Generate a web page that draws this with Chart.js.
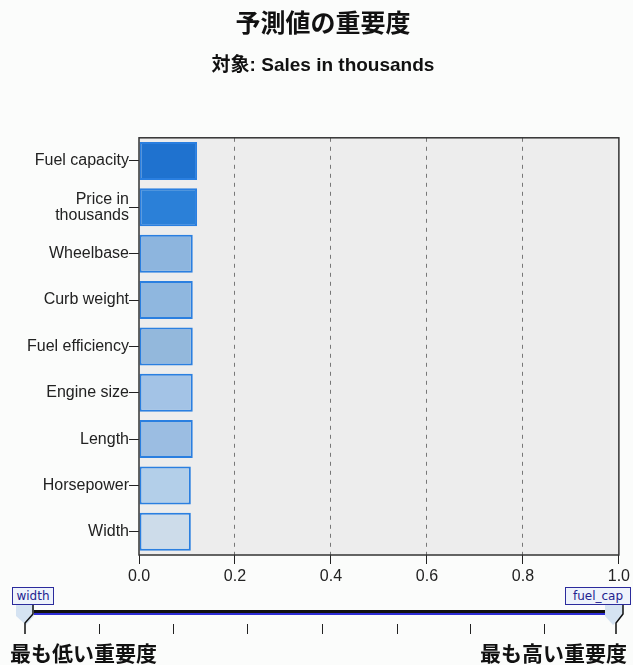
<!DOCTYPE html>
<html>
<head>
<meta charset="utf-8">
<script src="https://cdn.jsdelivr.net/npm/chart.js@4.4.1/dist/chart.umd.min.js"></script>
<style>
  body { margin: 0; background: #fbfcfb; }
  #wrap { position: relative; width: 633px; height: 665px; overflow: hidden; }
  #importance { position: absolute; left: 0; top: 0; }
  .tag { position: absolute; top: 587px; height: 16px; border: 1px solid #2b2b9c; background: #eef3fb;
         color: #23238f; font: 12px "DejaVu Sans", sans-serif; line-height: 16px; text-align: center; }
  .rail { position: absolute; left: 33px; width: 576px; }
  .tick { position: absolute; top: 624px; width: 1px; height: 10px; background: #222; }
  .end { position: absolute; top: 640px; font: bold 21px "Noto Sans CJK JP", sans-serif; color: #111; line-height: 24px; }
</style>
</head>
<body>
<div id="wrap">
  <canvas id="importance" width="633" height="665"></canvas>
  <div id="slider"></div>
</div>
<script>
const predictors = ['Fuel capacity', ['Price in', 'thousands'], 'Wheelbase', 'Curb weight',
  'Fuel efficiency', 'Engine size', 'Length', 'Horsepower', 'Width'];
const importance = [0.121, 0.121, 0.112, 0.112, 0.112, 0.112, 0.112, 0.108, 0.108];
const barColors = ['#1f72cf', '#2b80d8', '#8db5de', '#8fb7df', '#93b8dc', '#a3c3e6', '#9bbde2', '#b3cfe9', '#cddcea'];
const xTicks = [0, 0.2, 0.4, 0.6, 0.8, 1.0];
const sliderLow = 'width';
const sliderHigh = 'fuel_cap';
const sliderTicks = [99, 173, 247, 322, 397, 470, 544];

// plot background + frame
const plotFrame = {
  id: 'plotFrame',
  beforeDraw(chart) {
    const { ctx, chartArea: a } = chart;
    ctx.save();
    ctx.fillStyle = '#ededed';
    ctx.fillRect(a.left, a.top, a.right - a.left, a.bottom - a.top);
    ctx.restore();
  },
  afterDraw(chart) {
    const { ctx, chartArea: a } = chart;
    ctx.save();
    ctx.strokeStyle = '#333';
    ctx.lineWidth = 1.5;
    ctx.strokeRect(a.left, a.top, a.right - a.left, a.bottom - a.top);
    ctx.restore();
  }
};

new Chart(document.getElementById('importance'), {
  type: 'bar',
  data: {
    labels: predictors,
    datasets: [{
      data: importance,
      backgroundColor: barColors,
      borderColor: '#2a7fe0',
      borderWidth: 2,
      borderSkipped: false,
      categoryPercentage: 1,
      barPercentage: 0.82
    }]
  },
  plugins: [plotFrame],
  options: {
    indexAxis: 'y',
    responsive: false,
    animation: false,
    // left/right padding offset so the titles sit a bit right of the page centre
    layout: { padding: { left: 25, right: 12, top: 0, bottom: 0 } },
    plugins: {
      legend: { display: false },
      tooltip: { enabled: false },
      title: {
        display: true,
        text: '予測値の重要度',
        color: '#111',
        font: { family: '"Noto Sans CJK JP", sans-serif', size: 25, weight: 'bold' },
        padding: { top: 7, bottom: 17 }
      },
      subtitle: {
        display: true,
        text: '対象: Sales in thousands',
        color: '#111',
        font: { family: '"Liberation Sans", "Noto Sans CJK JP", sans-serif', size: 19, weight: 'bold' },
        padding: { top: 0, bottom: 61 }
      }
    },
    scales: {
      x: {
        min: 0,
        max: 1,
        afterBuildTicks: (scale) => { scale.ticks = xTicks.map(v => ({ value: v })); },
        afterFit: (scale) => { scale.height = 110; },
        border: { display: false, dash: [4, 5] },
        grid: {
          color: (c) => (c.tick && c.tick.value > 0 && c.tick.value < 1) ? '#777' : 'rgba(0,0,0,0)',
          lineWidth: 1,
          tickColor: '#222',
          tickBorderDash: [],
          tickLength: 9
        },
        ticks: {
          color: '#222',
          padding: 3,
          font: { family: '"Liberation Sans", Arial, sans-serif', size: 16 },
          callback: (v) => Number(v).toFixed(1)
        }
      },
      y: {
        afterFit: (scale) => { scale.width = 114; },
        border: { display: false },
        grid: { offset: false, drawOnChartArea: false, tickColor: '#222', tickLength: 10 },
        ticks: {
          color: '#222',
          padding: 0,
          font: { family: '"Liberation Sans", Arial, sans-serif', size: 16, lineHeight: 1.0 }
        }
      }
    }
  }
});

// importance range slider under the chart
const slider = document.getElementById('slider');
let html = '';
html += `<div class="rail" style="top:610px;height:3px;background:#111"></div>`;
html += `<div class="rail" style="top:613px;height:2px;background:#2d2dd6"></div>`;
html += `<svg style="position:absolute;left:0;top:600px" width="633" height="40">
  <polygon points="16,5 34,5 34,16 26,25 16,16" fill="#d5e3f2"/>
  <polygon points="623,5 605,5 605,16 613,25 623,16" fill="#d5e3f2"/>
  <polyline points="33,4 33,14 25,23 25,34" fill="none" stroke="#111" stroke-width="1.5"/>
  <polyline points="623,4 623,14 616,23 616,34" fill="none" stroke="#111" stroke-width="1.5"/>
</svg>`;
sliderTicks.forEach(x => { html += `<div class="tick" style="left:${x}px"></div>`; });
html += `<div class="tag" style="left:12px;width:40px">${sliderLow}</div>`;
html += `<div class="tag" style="left:565px;width:64px">${sliderHigh}</div>`;
html += `<div class="end" style="left:10px">最も低い重要度</div>`;
html += `<div class="end" style="right:6px">最も高い重要度</div>`;
slider.innerHTML = html;
</script>
</body>
</html>
